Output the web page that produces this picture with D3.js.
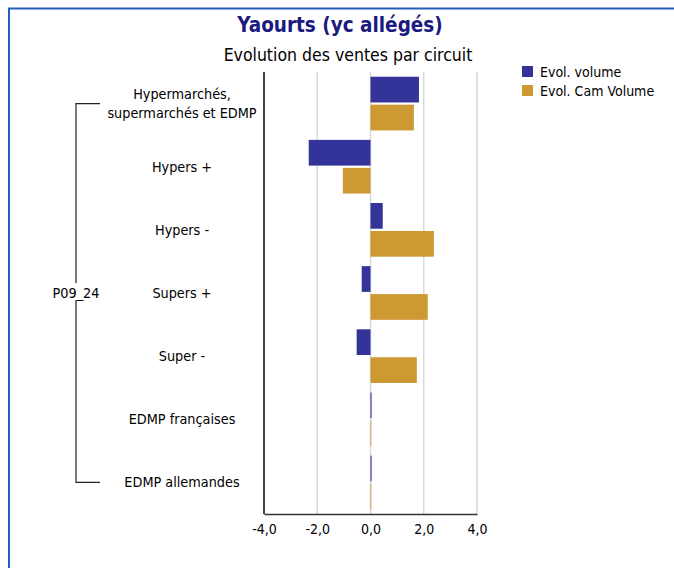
<!DOCTYPE html>
<html>
<head>
<meta charset="utf-8">
<script src="https://cdn.jsdelivr.net/npm/d3@7"></script>
<style>
  body { margin: 0; background: #fff; }
  text { font-family: "DejaVu Sans Condensed", "DejaVu Sans", Verdana, sans-serif; font-stretch: condensed; fill: #000; }
</style>
</head>
<body>
<div class="chart"></div>
<script>
// chart data
let categories = [
  "Hypermarchés,\nsupermarchés et EDMP",
  "Hypers +",
  "Hypers -",
  "Supers +",
  "Super -",
  "EDMP françaises",
  "EDMP allemandes"
];
let seriesNames = ["Evol. volume", "Evol. Cam Volume"];
let evolVolume = [1.82, -2.32, 0.46, -0.33, -0.52, 0.04, 0.04];
let evolCamVolume = [1.63, -1.04, 2.38, 2.15, 1.74, 0.03, 0.03];
let xTicks = [-4, -2, 0, 2, 4];
let groupLabel = "P09_24";

let colors = ["#333399", "#cc9933"];

let svgWidth = 674;
let svgHeight = 568;
let margin = {top: 72, right: 197, bottom: 54, left: 264};
let width = svgWidth - margin.left - margin.right;
let height = svgHeight - margin.top - margin.bottom;

let svg = d3.select(".chart").append("svg")
  .attr("width", svgWidth)
  .attr("height", svgHeight);

// blue frame
svg.append("rect")
  .attr("x", 9).attr("y", 8.5)
  .attr("width", 700).attr("height", 600)
  .attr("fill", "none")
  .attr("stroke", "#1f5fb8")
  .attr("stroke-width", 2);

// titles
svg.append("text")
  .attr("x", 340).attr("y", 32)
  .attr("text-anchor", "middle")
  .style("font-size", "20.5px")
  .style("font-weight", "bold")
  .style("fill", "#1a1a80")
  .text("Yaourts (yc allégés)");

svg.append("text")
  .attr("x", 348).attr("y", 61)
  .attr("text-anchor", "middle")
  .style("font-size", "17.5px")
  .text("Evolution des ventes par circuit");

let chartGroup = svg.append("g")
  .attr("transform", `translate(${margin.left}, ${margin.top})`);

let xScale = d3.scaleLinear().domain([-4, 4]).range([0, width]);
let yScale = d3.scaleBand().domain(categories).range([0, height]).paddingInner(0.15).paddingOuter(0.075);
let subScale = d3.scaleBand().domain(seriesNames).range([0, yScale.bandwidth()]).paddingInner(0.08);

// grid lines
chartGroup.selectAll(".grid")
  .data(xTicks.filter(d => d !== -4))
  .enter()
  .append("line")
  .attr("x1", d => xScale(d)).attr("x2", d => xScale(d))
  .attr("y1", 0).attr("y2", height)
  .attr("stroke", "#d9d9d9")
  .attr("stroke-width", 1.5);

// bars
let rows = categories.map((c, i) => ({cat: c, values: [evolVolume[i], evolCamVolume[i]]}));
let groups = chartGroup.selectAll(".row")
  .data(rows)
  .enter()
  .append("g")
  .attr("transform", d => `translate(0, ${yScale(d.cat)})`);

groups.selectAll("rect")
  .data(d => d.values.map((v, j) => ({name: seriesNames[j], value: v, j: j})))
  .enter()
  .append("rect")
  .attr("x", d => xScale(Math.min(0, d.value)))
  .attr("y", d => subScale(d.name))
  .attr("width", d => Math.abs(xScale(d.value) - xScale(0)))
  .attr("height", subScale.bandwidth())
  .attr("fill", d => colors[d.j]);

// axes
let bottomAxis = d3.axisBottom(xScale)
  .tickValues(xTicks)
  .tickSize(0)
  .tickPadding(10)
  .tickFormat(d => (d < 0 ? "-" : "") + Math.abs(d).toFixed(1).replace(".", ","));

let xAxisG = chartGroup.append("g")
  .attr("transform", `translate(0, ${height})`)
  .call(bottomAxis);
xAxisG.select(".domain").attr("stroke", "#333").attr("stroke-width", 1.5);
xAxisG.selectAll("text").style("font-size", "14px").style("fill", "#000");

chartGroup.append("line")
  .attr("x1", 0).attr("x2", 0)
  .attr("y1", 0).attr("y2", height)
  .attr("stroke", "#000")
  .attr("stroke-width", 1.5);

// category labels
let labelX = 182 - margin.left;
chartGroup.selectAll(".cat")
  .data(categories)
  .enter()
  .append("text")
  .attr("text-anchor", "middle")
  .style("font-size", "14.3px")
  .each(function(d) {
    let lines = d.split("\n");
    let cy = yScale(d) + yScale.bandwidth() / 2;
    let t = d3.select(this);
    lines.forEach((l, k) => {
      t.append("tspan")
        .attr("x", labelX)
        .attr("y", cy + (k - (lines.length - 1) / 2) * 18.5)
        .attr("dy", "0.35em")
        .text(l);
    });
  });

// group bracket
let firstY = yScale(categories[0]) + yScale.bandwidth() / 2;
let lastY = yScale(categories[categories.length - 1]) + yScale.bandwidth() / 2;
let midY = (firstY + lastY) / 2;
let bx = 76 - margin.left;
let bracket = chartGroup.append("g").attr("stroke", "#222").attr("stroke-width", 1.2).attr("fill", "none");
bracket.append("path").attr("d", `M${bx + 24},${firstY} H${bx} V${midY - 10}`);
bracket.append("path").attr("d", `M${bx + 24},${lastY} H${bx} V${midY + 7}`);
chartGroup.append("text")
  .attr("x", bx).attr("y", midY)
  .attr("dy", "0.35em")
  .attr("text-anchor", "middle")
  .style("font-size", "14.3px")
  .text(groupLabel);

// legend
let legend = svg.append("g").attr("transform", "translate(522, 66)");
seriesNames.forEach((n, i) => {
  legend.append("rect")
    .attr("x", 0).attr("y", i * 19)
    .attr("width", 11).attr("height", 11)
    .attr("fill", colors[i]);
  legend.append("text")
    .attr("x", 18).attr("y", i * 19 + 6)
    .attr("dy", "0.35em")
    .style("font-size", "14px")
    .text(n);
});
</script>
</body>
</html>
